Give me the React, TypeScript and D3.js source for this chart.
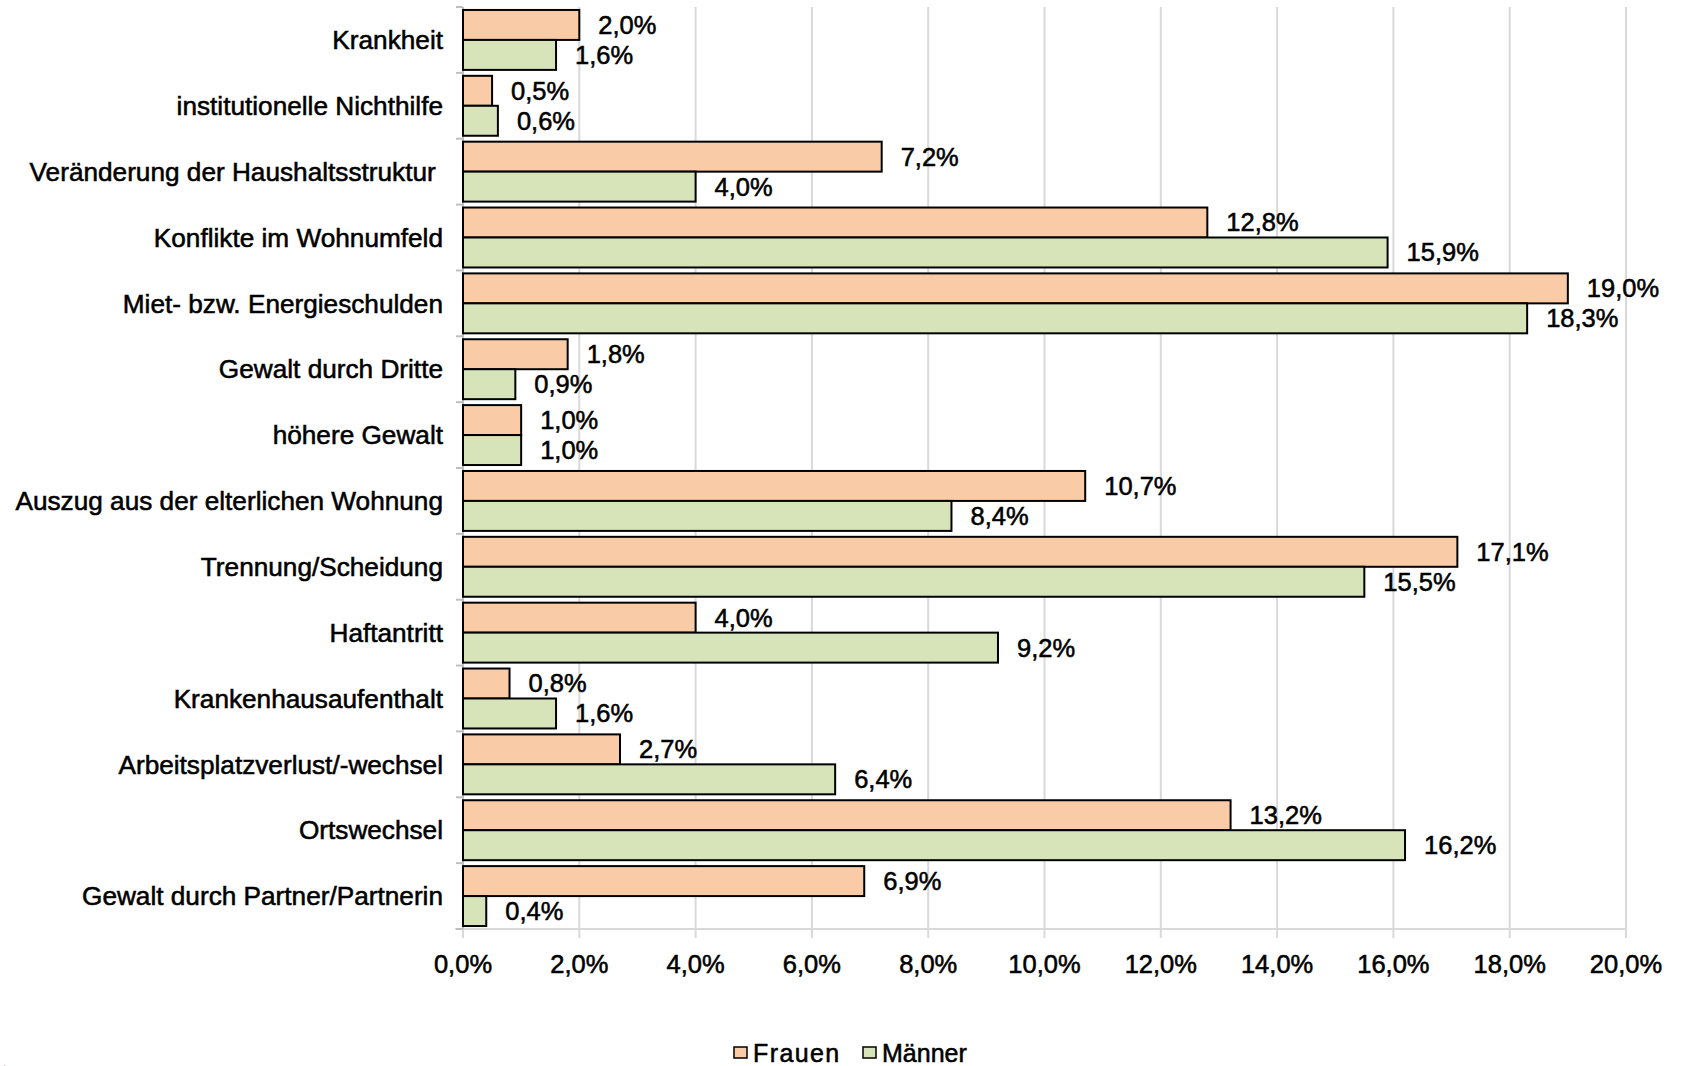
import React from "react";
import * as d3 from "d3";

const categories = [
  "Krankheit",
  "institutionelle Nichthilfe",
  "Veränderung der Haushaltsstruktur ",
  "Konflikte im Wohnumfeld",
  "Miet- bzw. Energieschulden",
  "Gewalt durch Dritte",
  "höhere Gewalt",
  "Auszug aus der elterlichen Wohnung",
  "Trennung/Scheidung",
  "Haftantritt",
  "Krankenhausaufenthalt",
  "Arbeitsplatzverlust/-wechsel",
  "Ortswechsel",
  "Gewalt durch Partner/Partnerin",
];
const frauen = [2.0, 0.5, 7.2, 12.8, 19.0, 1.8, 1.0, 10.7, 17.1, 4.0, 0.8, 2.7, 13.2, 6.9];
const maenner = [1.6, 0.6, 4.0, 15.9, 18.3, 0.9, 1.0, 8.4, 15.5, 9.2, 1.6, 6.4, 16.2, 0.4];
const xTicks = [0, 2, 4, 6, 8, 10, 12, 14, 16, 18, 20];
const seriesNames = ["Frauen", "Männer"];
const seriesColors = ["#F9CBA7", "#D7E4BA"];

const W = 1682;
const H = 1066;
const left = 463;
const right = 1626;
const top = 7;
const bottom = 929;
const font = "'Liberation Sans', Arial, sans-serif";
const fmt = (v: number) => v.toFixed(1).replace(".", ",") + "%";

export default function App() {
  const x = d3.scaleLinear().domain([0, 20]).range([left, right]);
  const y = d3.scaleBand<string>().domain(categories).range([top, bottom]).paddingInner(0.09).paddingOuter(0.045);
  const sub = d3.scaleBand<string>().domain(seriesNames).range([0, y.bandwidth()]);
  const step = y.step();
  const series = [frauen, maenner];
  const txt = { fontFamily: font, fill: "#000", stroke: "#000", strokeWidth: 0.55 };

  return (
    <svg width={W} height={H} style={{ position: "absolute", left: 0, top: 0, background: "#fff" }}>
      {xTicks.map((t) => (
        <g key={t}>
          <line x1={x(t)} x2={x(t)} y1={top} y2={bottom + 9} stroke="#D9D9D9" strokeWidth={2} />
          <text x={x(t)} y={973} textAnchor="middle" fontSize={25.5} {...txt}>
            {fmt(t)}
          </text>
        </g>
      ))}
      <line x1={left - 8} x2={right} y1={bottom} y2={bottom} stroke="#D9D9D9" strokeWidth={2} />
      <line x1={left} x2={left} y1={top} y2={bottom} stroke="#BFBFBF" strokeWidth={2} />
      {d3.range(categories.length + 1).map((i) => (
        <line key={i} x1={left - 7} x2={left} y1={top + i * step} y2={top + i * step} stroke="#BFBFBF" strokeWidth={2} />
      ))}
      {categories.map((c, i) => (
        <g key={c}>
          <text
            x={443}
            y={top + i * step + step / 2}
            dy="0.35em"
            textAnchor="end"
            fontSize={26.2}
            {...txt}
            style={{ whiteSpace: "pre" }}
          >
            {c}
          </text>
          {series.map((s, k) => {
            const by = (y(c) as number) + (sub(seriesNames[k]) as number);
            return (
              <g key={k}>
                <rect
                  x={x(0)}
                  y={by}
                  width={x(s[i]) - x(0)}
                  height={sub.bandwidth()}
                  fill={seriesColors[k]}
                  stroke="#000"
                  strokeWidth={2}
                />
                <text x={x(s[i]) + 19} y={by + sub.bandwidth() / 2} dy="0.35em" fontSize={25.5} {...txt}>
                  {fmt(s[i])}
                </text>
              </g>
            );
          })}
        </g>
      ))}
      {/* legend */}
      {seriesNames.map((n, k) => {
        const lx = k === 0 ? 734 : 863;
        return (
          <g key={n}>
            <rect x={lx} y={1047} width={13} height={11} fill={seriesColors[k]} stroke="#000" strokeWidth={1.5} />
            <text x={lx + 19} y={1062} fontSize={25} letterSpacing={k === 0 ? 1.4 : 0} {...txt}>
              {n}
            </text>
          </g>
        );
      })}
      <text x={-2} y={1081} fontSize={22} {...txt}>
        6
      </text>
    </svg>
  );
}
